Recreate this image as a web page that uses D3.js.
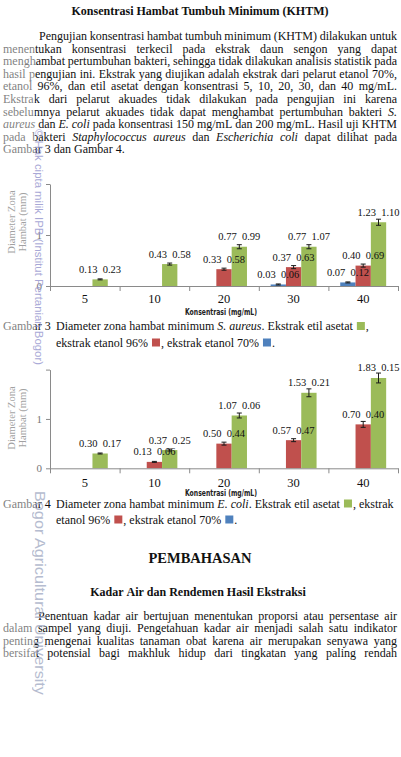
<!DOCTYPE html>
<html><head><meta charset="utf-8">
<script src="https://cdn.jsdelivr.net/npm/d3@7/dist/d3.min.js"></script>
<style>
body{margin:0;background:#fff;}
svg{display:block;}
</style></head><body>
<script>
// ---------- DATA ----------
const categories = ["5", "10", "20", "30", "40"];
const seriesKeys = ["etanol70", "etanol96", "etilAsetat"];
const yTicks = [0, 1, 2];
const yTickLabels = ["0", "1", ""];
const xAxisTitle = "Konsentrasi (mg/mL)";
const yAxisTitle = ["Diameter Zona", "Hambat (mm)"];

// Gambar 3 – S. aureus
const aureus70 = [0, 0, 0, 0.03, 0.07];
const aureus96 = [0, 0, 0.33, 0.37, 0.40];
const aureusEA = [0.13, 0.43, 0.77, 0.77, 1.25];
const aureus70Err = [0, 0, 0, 0.01, 0.01];
const aureus96Err = [0, 0, 0.02, 0.03, 0.03];
const aureusEAErr = [0.01, 0.02, 0.04, 0.04, 0.06];
const aureus70Lab = ["", "", "", "0.03  0.06", "0.07  0.12"];
const aureus96Lab = ["", "", "0.33  0.58", "0.37  0.63", "0.40  0.69"];
const aureusEALab = ["0.13  0.23", "0.43  0.58", "0.77  0.99", "0.77  1.07", "1.23  1.10"];

// Gambar 4 – E. coli
const coli70 = [0, 0, 0, 0, 0];
const coli96 = [0, 0.13, 0.50, 0.57, 0.89];
const coliEA = [0.30, 0.37, 1.07, 1.53, 1.83];
const coli70Err = [0, 0, 0, 0, 0];
const coli96Err = [0, 0.01, 0.03, 0.03, 0.06];
const coliEAErr = [0.01, 0.02, 0.05, 0.08, 0.10];
const coli70Lab = ["", "", "", "", ""];
const coli96Lab = ["", "0.13  0.06", "0.50  0.44", "0.57  0.47", "0.70  0.40"];
const coliEALab = ["0.30  0.17", "0.37  0.25", "1.07  0.06", "1.53  0.21", "1.83  0.15"];

// ---------- TEXT ----------
const heading1 = "Konsentrasi Hambat Tumbuh Minimum (KHTM)";
const para1 = [
  "Pengujian konsentrasi hambat tumbuh minimum (KHTM) dilakukan untuk",
  "menentukan konsentrasi terkecil pada ekstrak daun sengon yang dapat",
  "menghambat pertumbuhan bakteri, sehingga tidak dilakukan analisis statistik pada",
  "hasil pengujian ini. Ekstrak yang diujikan adalah ekstrak dari pelarut etanol 70%,",
  "etanol 96%, dan etil asetat dengan konsentrasi 5, 10, 20, 30, dan 40 mg/mL.",
  "Ekstrak dari pelarut akuades tidak dilakukan pada pengujian ini karena",
  "sebelumnya pelarut akuades tidak dapat menghambat pertumbuhan bakteri _S._",
  "_aureus_ dan _E. coli_ pada konsentrasi 150 mg/mL dan 200 mg/mL. Hasil uji KHTM",
  "pada bakteri _Staphylococcus aureus_ dan _Escherichia coli_ dapat dilihat pada",
  "Gambar 3 dan Gambar 4."
];
const cap3 = ["Gambar 3", "Diameter zona hambat minimum _S. aureus_. Ekstrak etil asetat [g],", "ekstrak etanol 96% [r], ekstrak etanol 70% [b]."];
const cap4 = ["Gambar 4", "Diameter zona hambat minimum _E. coli_. Ekstrak etil asetat [g], ekstrak", "etanol 96% [r], ekstrak etanol 70% [b]."];
const heading2 = "PEMBAHASAN";
const heading3 = "Kadar Air dan Rendemen Hasil Ekstraksi";
const para2 = [
  "Penentuan kadar air bertujuan menentukan proporsi atau persentase air",
  "dalam sampel yang diuji. Pengetahuan kadar air menjadi salah satu indikator",
  "penting mengenai kualitas tanaman obat karena air merupakan senyawa yang",
  "bersifat potensial bagi makhluk hidup dari tingkatan yang paling rendah"
];
const watermark1 = "© Hak cipta milik IPB (Institut Pertanian Bogor)";
const watermark2 = "Bogor Agricultural University";

// ---------- STYLE ----------
const colors = {b: "#4F81BD", r: "#C0504D", g: "#9BBB59"};
const seriesColors = [colors.b, colors.r, colors.g];
const SERIF = "'Liberation Serif','Times New Roman',serif";
const SANS = "'Liberation Sans Narrow','DejaVu Sans Condensed','Liberation Sans',Arial,sans-serif";

const W = 401, H = 757;
const svg = d3.select("body").append("svg").attr("width", W).attr("height", H);
svg.append("rect").attr("width", W).attr("height", H).attr("fill", "#fff");

function parseWords(str) {
  const words = []; let italic = false;
  for (const raw of str.split(" ")) {
    if (raw === "") continue;
    const pieces = []; let buf = "";
    for (let i = 0; i < raw.length; i++) {
      const c = raw[i];
      if (c === "_") { if (buf) { pieces.push({t: buf, i: italic}); buf = ""; } italic = !italic; }
      else if (c === "[") { if (buf) { pieces.push({t: buf, i: italic}); buf = ""; }
        const j = raw.indexOf("]", i); pieces.push({sq: raw.slice(i + 1, j)}); i = j; }
      else buf += c;
    }
    if (buf) pieces.push({t: buf, i: italic});
    words.push(pieces);
  }
  return words;
}

function drawLine(parent, str, x, y, o = {}) {
  const size = o.size || 12, weight = o.weight || "normal";
  const words = parseWords(str);
  const g = parent.append("g");
  const items = words.map(pieces => {
    let w = 0; const els = [];
    pieces.forEach(p => {
      if (p.sq) {
        const r = g.append("rect").attr("width", 8).attr("height", 8).attr("fill", colors[p.sq]);
        els.push({el: r, dx: w + 1, sq: true}); w += 10;
      } else {
        const t = g.append("text").text(p.t)
          .attr("font-family", SERIF).attr("font-size", size)
          .attr("font-weight", weight).attr("font-style", p.i ? "italic" : "normal")
          .attr("fill", o.fill || "#111");
        const tw = t.node().getComputedTextLength();
        els.push({el: t, dx: w}); w += tw;
      }
    });
    return {els, w};
  });
  const total = d3.sum(items, d => d.w);
  let gap = size * 0.25;
  if (o.justify && items.length > 1) gap = (o.justify - total) / (items.length - 1);
  let cx = x;
  if (o.anchor === "middle") cx = x - (total + gap * (items.length - 1)) / 2;
  items.forEach(it => {
    it.els.forEach(e => {
      e.el.attr("x", cx + e.dx).attr("y", e.sq ? y - 8 : y);
    });
    cx += it.w + gap;
  });
}

// ---------- PAGE TEXT ----------
const LM = 3, RM = 397;
drawLine(svg, heading1, 200, 14.5, {weight: "bold", anchor: "middle"});
para1.forEach((l, i) => {
  const x = i === 0 ? 39 : LM;
  const last = i === para1.length - 1;
  drawLine(svg, l, x, 40 + i * 12.6, last ? {} : {justify: RM - x});
});

function caption(c, y1, y2) {
  drawLine(svg, c[0], LM, y1);
  drawLine(svg, c[1], 56, y1);
  drawLine(svg, c[2], 56, y2);
}
caption(cap3, 330, 346.5);
caption(cap4, 507.5, 523.5);

drawLine(svg, heading2, 200, 563, {weight: "bold", size: 14.5, anchor: "middle"});
drawLine(svg, heading3, 198, 596, {weight: "bold", anchor: "middle"});
para2.forEach((l, i) => {
  const x = i === 0 ? 38 : LM;
  drawLine(svg, l, x, 619.5 + i * 12.5, {justify: RM - x});
});

// ---------- CHARTS ----------
function drawChart(cfg) {
  const x0 = 50, x1 = 398;
  const g = svg.append("g");
  const x = d3.scaleBand().domain(categories).range([x0, x1]).padding(0);
  const xs = d3.scaleBand().domain(seriesKeys)
    .range([x.bandwidth() * 0.17, x.bandwidth() * 0.83]).padding(0);
  const y = d3.scaleLinear().domain([0, 2]).range([cfg.y0, cfg.yTop]);
  const axisColor = "#8a8a8a";

  // bars + error bars
  seriesKeys.forEach((k, si) => {
    const vals = cfg.values[si], errs = cfg.errors[si];
    const sg = g.append("g");
    sg.selectAll("rect").data(categories.map((c, i) => ({c, v: vals[i]})).filter(d => d.v > 0))
      .join("rect")
      .attr("x", d => x(d.c) + xs(k))
      .attr("width", xs.bandwidth())
      .attr("y", d => y(d.v))
      .attr("height", d => y(0) - y(d.v))
      .attr("fill", seriesColors[si]);
    const eb = sg.selectAll("g.err").data(categories.map((c, i) => ({c, v: vals[i], e: errs[i]})).filter(d => d.v > 0 && d.e > 0))
      .join("g").attr("class", "err")
      .attr("stroke", "#1a1a1a").attr("stroke-width", 1);
    const cxf = d => x(d.c) + xs(k) + xs.bandwidth() / 2;
    eb.append("line").attr("x1", cxf).attr("x2", cxf).attr("y1", d => y(d.v + d.e)).attr("y2", d => y(d.v - d.e));
    eb.append("line").attr("x1", d => cxf(d) - 2.5).attr("x2", d => cxf(d) + 2.5).attr("y1", d => y(d.v + d.e)).attr("y2", d => y(d.v + d.e));
    eb.append("line").attr("x1", d => cxf(d) - 2.5).attr("x2", d => cxf(d) + 2.5).attr("y1", d => y(d.v - d.e)).attr("y2", d => y(d.v - d.e));
  });

  // x axis line + boundary ticks
  const xl = d3.scaleLinear().domain([0, categories.length]).range([x0, x1]);
  const gxa = g.append("g").attr("transform", `translate(0,${cfg.y0})`)
    .call(d3.axisBottom(xl).ticks(categories.length).tickSize(5).tickSizeOuter(0).tickFormat(""));
  gxa.selectAll("path,line").attr("stroke", axisColor);
  // category labels
  const gx = g.append("g").attr("transform", `translate(0,${cfg.y0})`)
    .call(d3.axisBottom(x).tickSize(0).tickPadding(cfg.catPad));
  gx.select(".domain").remove();
  gx.selectAll("text").attr("font-family", SERIF).attr("font-size", 12.5).attr("fill", "#111");

  // y axis
  const gy = g.append("g").attr("transform", `translate(${x0},0)`)
    .call(d3.axisLeft(y).tickValues(yTicks).tickFormat((d, i) => yTickLabels[i]).tickSize(4).tickSizeOuter(0).tickPadding(4));
  gy.selectAll("path,line").attr("stroke", axisColor);
  gy.selectAll("text").attr("font-family", SERIF).attr("font-size", 11).attr("fill", "#777");

  // data labels
  seriesKeys.forEach((k, si) => {
    const vals = cfg.values[si], labs = cfg.labels[si];
    g.append("g").selectAll("text")
      .data(categories.map((c, i) => ({c, v: vals[i], l: labs[i]})).filter(d => d.l))
      .join("text")
      .attr("x", d => x(d.c) + xs(k) + xs.bandwidth() / 2)
      .attr("y", d => y(d.v) - 6.5)
      .attr("text-anchor", "middle")
      .attr("font-family", SERIF).attr("font-size", 10.5).attr("fill", "#111")
      .style("white-space", "pre")
      .text(d => d.l);
  });

  // axis titles
  g.append("text").attr("x", 221).attr("y", cfg.xTitleY).attr("text-anchor", "middle")
    .attr("font-family", SANS).attr("font-size", 9.5).attr("font-weight", "bold").attr("fill", "#222")
    .attr("textLength", 72).attr("lengthAdjust", "spacingAndGlyphs").text(xAxisTitle);
  yAxisTitle.forEach((t, i) => {
    g.append("text").attr("transform", `translate(${14.5 + i * 11},${cfg.yTitleC}) rotate(-90)`)
      .attr("text-anchor", "middle").attr("font-family", SERIF).attr("font-size", 10.5).attr("fill", "#555")
      .text(t);
  });
}

drawChart({y0: 286, yTop: 184, catPad: 8.6, xTitleY: 314.5, yTitleC: 222,
  values: [aureus70, aureus96, aureusEA], errors: [aureus70Err, aureus96Err, aureusEAErr],
  labels: [aureus70Lab, aureus96Lab, aureusEALab]});
drawChart({y0: 468.3, yTop: 369.6, catPad: 9.8, xTitleY: 496, yTitleC: 418,
  values: [coli70, coli96, coliEA], errors: [coli70Err, coli96Err, coliEAErr],
  labels: [coli70Lab, coli96Lab, coliEALab]});

// ---------- WATERMARK ----------
svg.append("rect").attr("x", 0).attr("y", 0).attr("width", 35).attr("height", H)
  .attr("fill", "#fff").attr("opacity", 0.45);
svg.append("text").attr("transform", "translate(34.5,129) rotate(90)")
  .attr("font-family", "'Liberation Sans',Arial,sans-serif").attr("font-size", 10.5)
  .attr("fill", "#9a9ad0").attr("opacity", 0.85)
  .attr("textLength", 236).attr("lengthAdjust", "spacingAndGlyphs").text(watermark1);
svg.append("text").attr("transform", "translate(35,491) rotate(90)")
  .attr("font-family", "'Liberation Sans',Arial,sans-serif").attr("font-size", 14)
  .attr("fill", "#a9b1c8").attr("opacity", 0.85)
  .attr("textLength", 204).attr("lengthAdjust", "spacingAndGlyphs").text(watermark2);
</script>
</body></html>
